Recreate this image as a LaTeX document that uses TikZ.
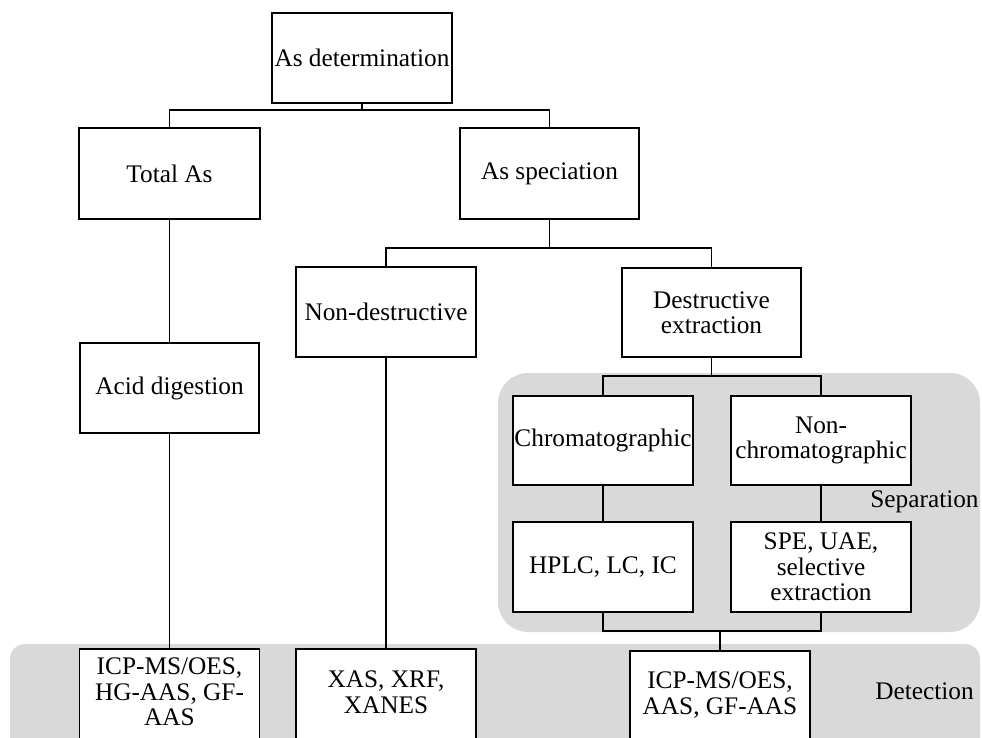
\documentclass[tikz,border=0pt]{standalone}
\usepackage{fontspec}
\setmainfont{Liberation Serif}
\begin{document}
\begin{tikzpicture}[x=1pt,y=-1pt,
  every node/.style={font=\fontsize{25.3}{25.5}\selectfont},
  bx/.style={draw=black,line width=1.5pt,fill=white,minimum width=180pt,minimum height=90pt,inner sep=1pt,align=center},
  bxopen/.style={draw=black,line width=1.5pt,fill=white,minimum width=180pt,minimum height=102pt,inner sep=0pt,anchor=north},
  lbl/.style={inner sep=0pt,align=center},
  conn/.style={draw=black,line width=1.2pt},
  band/.style={fill=gray!30,draw=none}]
\useasboundingbox (0,0) rectangle (982,738);
\clip (0,0) rectangle (982,738);
% gray bands
\fill[band,rounded corners=30pt] (498,373) rectangle (980,632);
\fill[band,rounded corners=15pt] (10,644) rectangle (980,780);
\node[lbl] (seplbl) at (924.5,502) {Separation};
\node[lbl] (detlbl) at (924.5,691) {Detection};
% junction coordinates
\coordinate (j1) at (0,110);
\coordinate (j2) at (0,248);
\coordinate (j3) at (0,376);
\coordinate (j4) at (0,631);
% boxes
\node[bx] (det) at (362,58) {As determination};
\node[bx,minimum width=181pt,minimum height=91pt] (total) at (169.5,173.5) {Total As};
\node[bx,minimum width=179pt,minimum height=91pt] (spec) at (549.5,173.5) {As speciation};
\node[bx] (nond) at (386,312) {Non-destructive};
\node[bx,minimum width=179pt,minimum height=89pt] (destr) at (711.5,312.5) {Destructive\\extraction};
\node[bx,minimum width=179pt] (acid) at (169.5,388) {Acid digestion};
\node[bx,minimum height=89pt] (chrom) at (603,440.5) {Chromatographic};
\node[bx,minimum height=89pt] (nonchrom) at (821,440.5) {Non-\\chromatographic};
\node[bx] (hplc) at (603,567) {HPLC, LC, IC};
\node[bx] (spe) at (821,567) {SPE, UAE,\\selective\\extraction};
\node[bxopen] (icpa) at (169.5,648) {};
\node[lbl] (icpat) at (169.5,692) {ICP-MS/OES,\\HG-AAS, GF-\\AAS};
\node[bxopen] (xas) at (386,648) {};
\node[lbl] (xast) at (386,692) {XAS, XRF,\\XANES};
\node[bxopen] (icpb) at (720,650) {};
\node[lbl] (icpbt) at (720,695) {ICP-MS/OES,\\AAS, GF-AAS};
% connectors
\draw[conn] (det.south) -- (det.south |- j1);
\draw[conn] (total.north) -- (total.north |- j1) -- (spec.north |- j1) -- (spec.north);
\draw[conn] (total.south) -- (acid.north);
\draw[conn] (acid.south) -- (icpa.north);
\draw[conn] (spec.south) -- (spec.south |- j2);
\draw[conn] (nond.north) -- (nond.north |- j2) -- (destr.north |- j2) -- (destr.north);
\draw[conn] (nond.south) -- (xas.north);
\draw[conn] (destr.south) -- (destr.south |- j3);
\draw[conn] (chrom.north) -- (chrom.north |- j3) -- (nonchrom.north |- j3) -- (nonchrom.north);
\draw[conn] (chrom.south) -- (hplc.north);
\draw[conn] (nonchrom.south) -- (spe.north);
\draw[conn] (hplc.south) -- (hplc.south |- j4) -- (spe.south |- j4) -- (spe.south);
\draw[conn] (icpb.north |- j4) -- (icpb.north);
\end{tikzpicture}
\end{document}
